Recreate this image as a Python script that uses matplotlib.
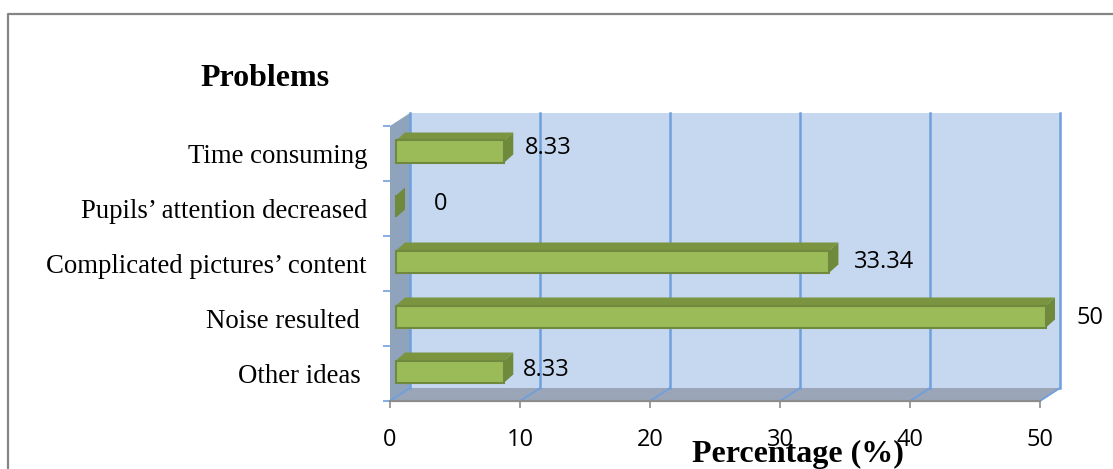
import matplotlib
matplotlib.use('Agg')
import matplotlib.pyplot as plt
from matplotlib.patches import Polygon
from matplotlib.lines import Line2D

categories = ['Other ideas ', 'Noise resulted ', 'Complicated pictures\u2019 content',
              'Pupils\u2019 attention decreased', 'Time consuming']
values = [8.33, 50, 33.34, 0, 8.33]
value_labels = ['8.33', '50', '33.34', '0', '8.33']
x_ticks = [0, 10, 20, 30, 40, 50]

W, H = 1113, 469
PX_X = 1 / 13   # value units per pixel
PX_Y = 1 / 55   # category units per pixel
WALL_DX = 20 * PX_X
WALL_DY = 13 * PX_Y

WALL = '#c6d8f0'
SIDE_WALL = '#8fa3bd'
FLOOR = '#9aa6b8'
GRID = '#6f9fdc'
BAR = '#9bbb59'
BAR_TOP = '#7a9440'
BAR_SIDE = '#6f8a3a'
BAR_EDGE = '#71893f'


def poly(ax, pts, color, z):
    ax.add_patch(Polygon(pts, closed=True, facecolor=color, edgecolor='none',
                         zorder=z, clip_on=False))


def main():
    fig = plt.figure(figsize=(W / 100, H / 100), dpi=100)
    ax = fig.add_axes([390 / W, (H - 401) / H, 650 / W, 275 / H])
    ax.set_xlim(0, 50)
    ax.set_ylim(0, 5)
    ax.patch.set_visible(False)

    # 3d box behind the bars
    poly(ax, [(WALL_DX, WALL_DY), (50 + WALL_DX, WALL_DY),
              (50 + WALL_DX, 5 + WALL_DY), (WALL_DX, 5 + WALL_DY)], WALL, 1)
    poly(ax, [(0, 0), (WALL_DX, WALL_DY), (WALL_DX, 5 + WALL_DY), (0, 5)], SIDE_WALL, 1)
    poly(ax, [(0, 0), (50, 0), (50 + WALL_DX, WALL_DY), (WALL_DX, WALL_DY)], FLOOR, 1)

    for t in x_ticks:
        ax.plot([t + WALL_DX, t + WALL_DX], [WALL_DY, 5 + WALL_DY], color=GRID, lw=1.8,
                zorder=2, clip_on=False)
        ax.plot([t, t + WALL_DX], [0, WALL_DY], color=GRID, lw=1.3, zorder=2, clip_on=False)

    # bars: front face from barh, top and side faces from the same values
    left = 6 * PX_X
    height = 22 * PX_Y
    ddx = 9 * PX_X
    ddy = 8 * PX_Y
    for i, v in enumerate(values):
        y0 = i + 0.5 + 2 * PX_Y - height / 2
        y1 = y0 + height
        x1 = left + v
        poly(ax, [(left, y1), (x1, y1), (x1 + ddx, y1 + ddy), (left + ddx, y1 + ddy)], BAR_TOP, 3)
        poly(ax, [(x1, y0), (x1 + ddx, y0 + ddy), (x1 + ddx, y1 + ddy), (x1, y1)], BAR_SIDE, 3)
        ax.barh(i + 0.5 + 2 * PX_Y, v, left=left, height=height, color=BAR,
                edgecolor=BAR_EDGE, linewidth=1.5, zorder=4, clip_on=False)

    # value labels sit a little off the bar ends, not evenly in the original
    nudges = [(19, 4), (30, 1), (25, 2), (38, 5), (21, 6)]
    for i, (v, lab) in enumerate(zip(values, value_labels)):
        ax.annotate(lab, xy=(left + v, i + 0.5), xytext=(nudges[i][0] * 0.72, nudges[i][1] * 0.72),
                    textcoords='offset points', ha='left', va='center',
                    family='Open Sans', fontsize=17, color='black', zorder=6,
                    annotation_clip=False)

    for s in ['top', 'right']:
        ax.spines[s].set_visible(False)
    ax.spines['left'].set_visible(False)
    ax.spines['bottom'].set_color('#8c8c8c')
    ax.spines['bottom'].set_linewidth(1.6)

    ax.set_xticks(x_ticks)
    ax.set_xticklabels([str(t) for t in x_ticks], family='Open Sans', fontsize=17)
    ax.tick_params(axis='x', length=5, width=1.2, color='#8c8c8c', pad=14.5)
    ax.set_yticks(range(6))
    ax.set_yticklabels([])
    ax.tick_params(axis='y', length=5, width=1.2, color=GRID)

    for i, c in enumerate(categories):
        ax.annotate(c, xy=(0, i + 0.5), xytext=(-23 * 0.72, -2.5),
                    textcoords='offset points', ha='right', va='center',
                    family='Liberation Serif', fontsize=19.3, annotation_clip=False)

    fig.text(200 / W, 1 - 78 / H, 'Problems', family='Liberation Serif', fontweight='bold',
             fontsize=23, ha='left', va='center')
    fig.text(798 / W, 1 - 454 / H, 'Percentage (%)', family='Liberation Serif', fontweight='bold',
             fontsize=23, ha='center', va='center', zorder=10)

    # outer frame, only top and left are in the crop
    frame_x = [8 / W, 8 / W, 1]
    frame_y = [0, 1 - 14 / H, 1 - 14 / H]
    fig.add_artist(Line2D(frame_x, frame_y, color='#858585', lw=1.6))

    fig.savefig('out.png', dpi=100)


if __name__ == "__main__":
    main()
